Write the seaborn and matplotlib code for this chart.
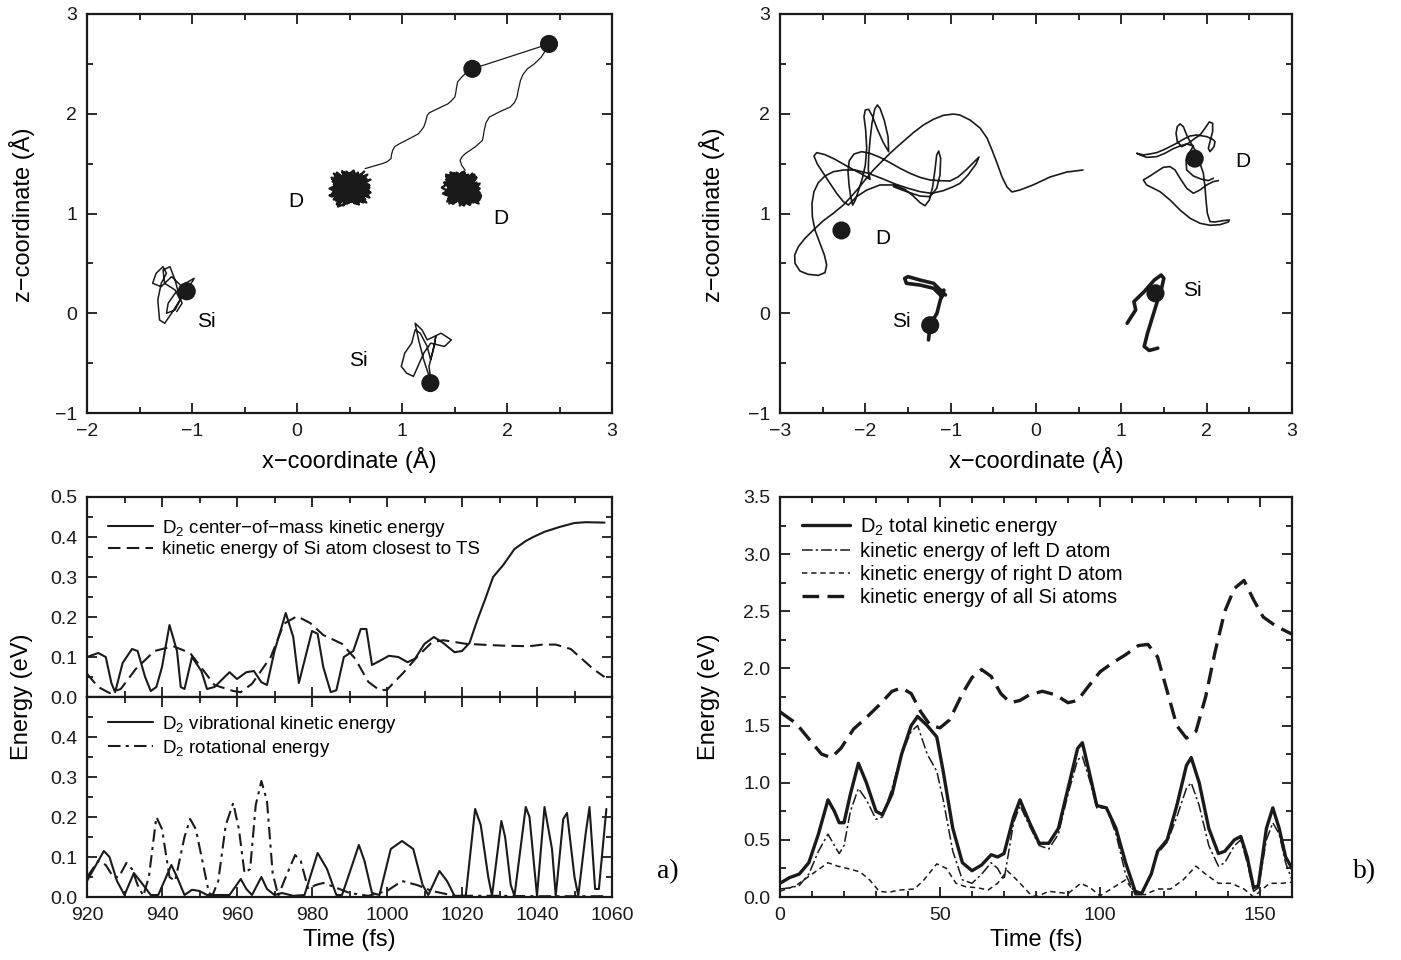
import matplotlib.pyplot as plt
from matplotlib.ticker import MultipleLocator
import seaborn as sns

sns.set_theme(style='ticks')
plt.rcParams['font.family'] = ['Liberation Sans', 'DejaVu Sans']
plt.rcParams['mathtext.fontset'] = 'custom'
plt.rcParams['mathtext.rm'] = 'Liberation Sans'
plt.rcParams['mathtext.default'] = 'rm'
for key in ['text.color', 'axes.labelcolor', 'xtick.color', 'ytick.color', 'axes.edgecolor']:
    plt.rcParams[key] = 'black'

# ---------------- panel a) top : trajectories (x, z in Angstrom)
a_dot_x = [2.40, 1.67, -1.05, 1.27]
a_dot_y = [2.70, 2.45, 0.22, -0.70]
a_bond_x = [1.67, 2.40]
a_bond_y = [2.45, 2.70]
a_pathl_x = [1.684, 1.62, 1.569, 1.53, 1.52, 1.512, 1.503, 1.47, 1.438, 1.34, 1.26, 1.24, 1.225,
             1.207, 1.18, 1.158, 1.07, 0.977, 0.93, 0.911, 0.90, 0.895, 0.86, 0.813, 0.73, 0.648]
a_pathl_y = [2.45, 2.42, 2.367, 2.32, 2.267, 2.21, 2.167, 2.13, 2.10, 2.05, 2.01, 1.983, 1.92,
             1.867, 1.83, 1.80, 1.75, 1.70, 1.67, 1.633, 1.59, 1.55, 1.52, 1.50, 1.475, 1.45]
a_pathr_x = [2.408, 2.37, 2.326, 2.26, 2.194, 2.15, 2.128, 2.11, 2.095, 2.07, 2.03, 1.93, 1.832,
             1.80, 1.783, 1.775, 1.766, 1.70, 1.602, 1.57, 1.553, 1.57, 1.602]
a_pathr_y = [2.70, 2.64, 2.567, 2.50, 2.45, 2.39, 2.333, 2.25, 2.167, 2.11, 2.067, 2.02, 1.967,
             1.91, 1.833, 1.78, 1.733, 1.67, 1.60, 1.565, 1.533, 1.48, 1.433]
blob_l_x = [0.64, 0.36, 0.62, 0.40, 0.58, 0.34, 0.66, 0.42, 0.55, 0.37,
            0.68, 0.45, 0.52, 0.35, 0.63, 0.39, 0.60, 0.47, 0.66, 0.33,
            0.57, 0.44, 0.69, 0.38, 0.61, 0.50, 0.36, 0.65, 0.41, 0.59,
            0.35, 0.67, 0.46, 0.54, 0.38, 0.62, 0.43, 0.70, 0.34, 0.56,
            0.49, 0.64, 0.37, 0.58, 0.45, 0.66, 0.40, 0.53, 0.36, 0.63,
            0.31, 0.60, 0.44, 0.68, 0.39, 0.51, 0.65, 0.35, 0.57, 0.42,
            0.69, 0.48, 0.33, 0.61, 0.46, 0.67, 0.38, 0.55, 0.43, 0.62,
            0.40, 0.64, 0.34, 0.59, 0.47, 0.69, 0.36, 0.54, 0.62, 0.41,
            0.67, 0.33, 0.50, 0.63, 0.38, 0.57, 0.45, 0.70, 0.35, 0.60,
            0.48, 0.66, 0.39, 0.53, 0.31, 0.64, 0.44, 0.58, 0.36, 0.68,
            0.42, 0.55, 0.34, 0.61, 0.47, 0.69, 0.37, 0.52, 0.65, 0.40]
blob_l_y = [1.42, 1.15, 1.38, 1.12, 1.40, 1.20, 1.18, 1.37, 1.10, 1.33,
            1.24, 1.41, 1.14, 1.29, 1.11, 1.39, 1.22, 1.13, 1.35, 1.26,
            1.16, 1.40, 1.28, 1.09, 1.33, 1.19, 1.37, 1.14, 1.31, 1.12,
            1.23, 1.39, 1.17, 1.36, 1.10, 1.27, 1.42, 1.21, 1.34, 1.13,
            1.38, 1.25, 1.16, 1.41, 1.11, 1.30, 1.20, 1.37, 1.15, 1.32,
            1.25, 1.12, 1.36, 1.19, 1.07, 1.34, 1.24, 1.40, 1.15, 1.30,
            1.26, 1.10, 1.36, 1.18, 1.39, 1.22, 1.31, 1.12, 1.42, 1.27,
            1.13, 1.35, 1.21, 1.09, 1.40, 1.16, 1.29, 1.43, 1.12, 1.38,
            1.24, 1.17, 1.33, 1.20, 1.41, 1.10, 1.27, 1.34, 1.14, 1.39,
            1.22, 1.11, 1.36, 1.26, 1.18, 1.31, 1.08, 1.37, 1.23, 1.29,
            1.15, 1.40, 1.32, 1.17, 1.42, 1.21, 1.13, 1.28, 1.35, 1.19]
blob_r_x = [1.60, 1.44, 1.70, 1.48, 1.74, 1.42, 1.65, 1.52, 1.72, 1.45,
            1.58, 1.68, 1.43, 1.62, 1.50, 1.75, 1.46, 1.66, 1.55, 1.41,
            1.71, 1.49, 1.63, 1.44, 1.73, 1.53, 1.67, 1.42, 1.59, 1.69,
            1.47, 1.64, 1.51, 1.74, 1.43, 1.61, 1.56, 1.70, 1.45, 1.66,
            1.50, 1.72, 1.48, 1.62, 1.41, 1.68, 1.54, 1.73, 1.46, 1.60,
            1.39, 1.65, 1.52, 1.71, 1.44, 1.57, 1.75, 1.47, 1.63, 1.42,
            1.69, 1.55, 1.45, 1.72, 1.50, 1.66, 1.43, 1.61, 1.53, 1.70,
            1.48, 1.71, 1.43, 1.64, 1.52, 1.75, 1.40, 1.58, 1.69, 1.46,
            1.73, 1.51, 1.62, 1.44, 1.67, 1.55, 1.74, 1.42, 1.60, 1.49,
            1.70, 1.45, 1.65, 1.53, 1.72, 1.41, 1.59, 1.68, 1.47, 1.63,
            1.38, 1.56, 1.74, 1.50, 1.66, 1.43, 1.71, 1.54, 1.46, 1.64]
blob_r_y = [1.40, 1.14, 1.37, 1.10, 1.25, 1.39, 1.12, 1.35, 1.18, 1.30,
            1.09, 1.38, 1.22, 1.13, 1.40, 1.16, 1.33, 1.11, 1.36, 1.20,
            1.31, 1.10, 1.39, 1.26, 1.13, 1.37, 1.17, 1.34, 1.08, 1.28,
            1.41, 1.15, 1.32, 1.21, 1.12, 1.38, 1.19, 1.35, 1.10, 1.27,
            1.40, 1.14, 1.36, 1.23, 1.31, 1.11, 1.39, 1.24, 1.16, 1.33,
            1.20, 1.09, 1.35, 1.26, 1.13, 1.41, 1.18, 1.30, 1.11, 1.37,
            1.22, 1.10, 1.38, 1.28, 1.15, 1.34, 1.19, 1.12, 1.40, 1.25,
            1.12, 1.36, 1.24, 1.09, 1.41, 1.18, 1.31, 1.14, 1.39, 1.22,
            1.10, 1.35, 1.27, 1.15, 1.40, 1.08, 1.30, 1.19, 1.37, 1.13,
            1.25, 1.38, 1.11, 1.33, 1.21, 1.29, 1.42, 1.16, 1.34, 1.10,
            1.26, 1.39, 1.14, 1.32, 1.20, 1.36, 1.12, 1.28, 1.41, 1.23]
a_si1_x = [-1.030, -1.095, -1.194, -1.26, -1.309, -1.326, -1.293, -1.243, -1.276, -1.342,
           -1.375, -1.293, -1.194, -1.128, -1.063, -0.997, -0.98, -1.063, -1.161, -1.227,
           -1.243, -1.161, -1.112, -1.161, -1.26, -1.276, -1.21, -1.161, -1.128, -1.095, -1.145]
a_si1_y = [0.233, 0.167, 0.0, -0.1, -0.067, 0.133, 0.30, 0.40, 0.467, 0.40,
           0.30, 0.267, 0.367, 0.30, 0.233, 0.317, 0.35, 0.30, 0.20, 0.10,
           0.0, 0.033, 0.133, 0.233, 0.30, 0.433, 0.467, 0.333, 0.20, 0.10, 0.017]
a_si2_x = [1.28, 1.207, 1.158, 1.125, 1.191, 1.24, 1.372, 1.47, 1.405, 1.273, 1.207, 1.109,
           1.043, 0.993, 1.026, 1.092, 1.125, 1.174, 1.24, 1.273, 1.306, 1.322, 1.289, 1.257, 1.28]
a_si2_y = [-0.70, -0.467, -0.267, -0.10, -0.167, -0.267, -0.20, -0.267, -0.333, -0.30, -0.40, -0.633,
           -0.60, -0.533, -0.40, -0.30, -0.167, -0.20, -0.333, -0.467, -0.333, -0.233, -0.40, -0.533, -0.70]
a_lab_text = ['D', 'D', 'Si', 'Si']
a_lab_x = [-0.01, 1.94, -0.86, 0.58]
a_lab_y = [1.12, 0.95, -0.08, -0.47]

# ---------------- panel b) top : trajectories
b_dot_x = [-2.28, 1.86, -1.24, 1.40]
b_dot_y = [0.83, 1.55, -0.12, 0.20]
b_dl_x = [0.551, 0.363, 0.164, -0.035, -0.187, -0.281, -0.340, -0.398, -0.457, -0.516,
          -0.574, -0.656, -0.773, -0.891, -0.969, -1.086, -1.203, -1.320, -1.438, -1.535,
          -1.625, -1.711, -1.809, -1.906, -2.004, -2.082, -2.160, -2.258, -2.375, -2.492,
          -2.609, -2.707, -2.785, -2.828, -2.824, -2.766, -2.668, -2.551, -2.473, -2.453,
          -2.480, -2.531, -2.590, -2.621, -2.625, -2.602, -2.551, -2.473, -2.375, -2.258,
          -2.121, -1.965, -1.809, -1.652, -1.496, -1.359, -1.223, -1.086, -0.969, -0.891,
          -0.797, -0.703, -0.668, -0.727, -0.820, -0.914, -1.008, -1.125, -1.242, -1.359,
          -1.477, -1.594, -1.711, -1.828, -1.945, -2.043, -2.133, -2.188, -2.203, -2.191,
          -2.172, -2.148, -2.117, -2.078, -2.035, -2.0, -1.984, -1.996, -2.016, -2.0,
          -1.961, -1.918, -1.859, -1.789, -1.727, -1.734, -1.777, -1.828, -1.859, -1.891,
          -1.922, -1.945, -1.961, -1.965, -1.945, -1.977, -2.043, -2.133, -2.238, -2.355,
          -2.473, -2.570, -2.602, -2.563, -2.492, -2.414, -2.336, -2.258, -2.199, -2.102,
          -1.984, -1.828, -1.672, -1.535, -1.438, -1.359, -1.301, -1.250, -1.211, -1.184,
          -1.164, -1.141, -1.117, -1.125, -1.164, -1.242, -1.359, -1.516, -1.672]
b_dl_y = [1.436, 1.416, 1.366, 1.286, 1.236, 1.216, 1.266, 1.366, 1.506, 1.637,
          1.757, 1.857, 1.937, 1.987, 1.997, 1.984, 1.944, 1.887, 1.810, 1.737,
          1.670, 1.603, 1.520, 1.436, 1.336, 1.252, 1.175, 1.085, 1.002, 0.928,
          0.834, 0.751, 0.667, 0.584, 0.500, 0.423, 0.390, 0.380, 0.407, 0.484,
          0.584, 0.701, 0.834, 0.968, 1.102, 1.219, 1.309, 1.376, 1.419, 1.436,
          1.436, 1.403, 1.352, 1.296, 1.252, 1.219, 1.202, 1.229, 1.269, 1.302,
          1.386, 1.496, 1.566, 1.516, 1.436, 1.366, 1.326, 1.329, 1.336, 1.362,
          1.403, 1.453, 1.510, 1.563, 1.603, 1.620, 1.596, 1.530, 1.419, 1.286,
          1.169, 1.085, 1.135, 1.235, 1.352, 1.486, 1.653, 1.837, 1.971, 2.038,
          2.044, 1.977, 1.844, 1.710, 1.620, 1.770, 1.931, 2.054, 2.088, 2.044,
          1.904, 1.737, 1.570, 1.436, 1.342, 1.362, 1.396, 1.436, 1.486, 1.543,
          1.590, 1.610, 1.576, 1.496, 1.403, 1.302, 1.202, 1.119, 1.085, 1.169,
          1.235, 1.286, 1.286, 1.242, 1.175, 1.109, 1.078, 1.135, 1.269, 1.436,
          1.586, 1.626, 1.553, 1.386, 1.252, 1.169, 1.175, 1.219, 1.269]
b_dr_x = [2.137, 2.078, 2.000, 1.922, 1.844, 1.766, 1.688, 1.629, 1.570, 1.492,
          1.414, 1.336, 1.258, 1.297, 1.375, 1.453, 1.570, 1.688, 1.805, 1.922,
          2.039, 2.156, 2.254, 2.266, 2.195, 2.098, 2.039, 2.008, 1.992, 1.980,
          1.961, 1.922, 1.883, 1.863, 1.805, 1.766, 1.727, 1.688, 1.656, 1.641,
          1.656, 1.707, 1.785, 1.863, 1.922, 1.980, 2.031, 2.070, 2.070, 2.039,
          2.020, 2.039, 2.086, 2.098, 2.070, 2.000, 1.883, 1.805, 1.727, 1.648,
          1.570, 1.492, 1.414, 1.336, 1.258, 1.180, 1.219, 1.297, 1.414, 1.512,
          1.609, 1.688, 1.766, 1.844, 1.805, 1.758, 1.766, 1.844, 1.941, 2.020, 2.078]
b_dr_y = [1.330, 1.320, 1.286, 1.236, 1.203, 1.253, 1.353, 1.437, 1.470, 1.463,
          1.420, 1.376, 1.336, 1.286, 1.253, 1.219, 1.136, 1.035, 0.952, 0.902,
          0.882, 0.888, 0.915, 0.935, 0.929, 0.915, 0.919, 1.002, 1.136, 1.269,
          1.403, 1.503, 1.570, 1.637, 1.721, 1.787, 1.871, 1.898, 1.871, 1.804,
          1.721, 1.670, 1.704, 1.754, 1.787, 1.854, 1.918, 1.904, 1.821, 1.721,
          1.654, 1.620, 1.670, 1.721, 1.744, 1.771, 1.787, 1.777, 1.744, 1.704,
          1.670, 1.637, 1.610, 1.597, 1.587, 1.604, 1.587, 1.563, 1.570, 1.604,
          1.650, 1.677, 1.697, 1.677, 1.620, 1.537, 1.436, 1.376, 1.343, 1.330, 1.353]
b_si1_x = [-1.26, -1.24, -1.161, -1.121, -1.081, -1.101, -1.141, -1.20, -1.36, -1.519,
           -1.539, -1.499, -1.36, -1.20, -1.121, -1.061]
b_si1_y = [-0.267, -0.117, 0.0, 0.133, 0.233, 0.167, 0.20, 0.25, 0.283, 0.30,
           0.35, 0.367, 0.333, 0.30, 0.233, 0.183]
b_si2_x = [1.068, 1.168, 1.148, 1.268, 1.387, 1.467, 1.498, 1.467, 1.427, 1.367, 1.307, 1.268, 1.327, 1.427]
b_si2_y = [-0.10, 0.033, 0.117, 0.217, 0.333, 0.383, 0.35, 0.233, 0.133, -0.033, -0.20, -0.333, -0.373, -0.35]
b_lab_text = ['D', 'D', 'Si', 'Si']
b_lab_x = [-1.80, 2.42, -1.58, 1.83]
b_lab_y = [0.75, 1.52, -0.08, 0.23]

# ---------------- panel a) bottom : energies (eV) vs time (fs)
cm_t = [920, 923, 925, 926.5, 927.5, 929.5, 932, 933.5, 935.5, 937, 938.5, 940, 942, 944, 945,
        946, 948, 950.5, 952, 954, 958, 960, 962.5, 964.5, 966.5, 968, 970, 973, 975, 976.5,
        980, 981.5, 983, 985, 986.5, 988.5, 991, 993, 994.5, 996, 998, 1000.5, 1003, 1005.5,
        1007.5, 1010, 1012.5, 1015, 1018, 1020, 1022, 1024, 1026, 1028.3, 1031, 1034, 1037,
        1039, 1042, 1046, 1050, 1053, 1058]
cm_e = [0.10, 0.11, 0.10, 0.035, 0.012, 0.085, 0.12, 0.115, 0.05, 0.015, 0.025, 0.075, 0.18, 0.115, 0.025,
        0.02, 0.10, 0.065, 0.02, 0.025, 0.062, 0.045, 0.062, 0.065, 0.037, 0.03, 0.115, 0.21, 0.15, 0.035,
        0.165, 0.158, 0.075, 0.012, 0.017, 0.10, 0.115, 0.17, 0.17, 0.08, 0.09, 0.103, 0.10, 0.087,
        0.096, 0.133, 0.15, 0.135, 0.112, 0.115, 0.135, 0.19, 0.24, 0.30, 0.33, 0.37, 0.39,
        0.40, 0.413, 0.425, 0.435, 0.437, 0.436]
sits_t = [920, 923, 926, 929, 933, 938, 943, 947.5, 951, 954, 959, 961, 964, 969, 972.5, 976, 979.5,
          983, 988, 991.5, 995, 998, 1000, 1004.5, 1008, 1012, 1015, 1021, 1027, 1032, 1038, 1041.5,
          1045, 1049, 1052, 1055, 1058]
sits_e = [0.058, 0.025, 0.01, 0.02, 0.07, 0.115, 0.127, 0.11, 0.067, 0.03, 0.015, 0.012, 0.033, 0.10,
          0.183, 0.202, 0.185, 0.155, 0.133, 0.096, 0.038, 0.017, 0.018, 0.062, 0.10, 0.137, 0.142,
          0.133, 0.13, 0.128, 0.127, 0.131, 0.131, 0.12, 0.095, 0.07, 0.05]
vib_t = [920, 924.5, 926, 928, 930, 932.5, 935, 937, 939, 942.5, 944, 946, 948, 950, 952, 958, 961,
         962.5, 964, 966.5, 968, 970, 972, 975, 978, 981.5, 984, 986.5, 988, 990, 992.5, 994, 996,
         998, 1001, 1004, 1007, 1009.5, 1011, 1014, 1016, 1018, 1021, 1023.5, 1025, 1027, 1028,
         1030.5, 1031.5, 1033, 1034, 1037, 1038, 1040, 1042, 1044, 1045, 1047, 1048, 1050, 1051,
         1053, 1054, 1055.5, 1056.5, 1058.5]
vib_e = [0.04, 0.115, 0.10, 0.04, 0.005, 0.06, 0.03, 0.005, 0.005, 0.08, 0.05, 0.005, 0.018, 0.015,
         0.005, 0.005, 0.045, 0.02, 0.005, 0.05, 0.02, 0.005, 0.01, 0.003, 0.005, 0.11, 0.07, 0.005,
         0.005, 0.06, 0.13, 0.09, 0.01, 0.005, 0.12, 0.14, 0.12, 0.03, 0.005, 0.065, 0.04, 0.003,
         0.003, 0.22, 0.18, 0.05, 0.003, 0.19, 0.15, 0.03, 0.003, 0.225, 0.2, 0.003, 0.225, 0.12,
         0.003, 0.195, 0.21, 0.05, 0.003, 0.16, 0.225, 0.02, 0.02, 0.22]
rot_t = [920, 923, 925, 927, 928.5, 930.5, 932, 933.5, 935, 936.5, 938.5, 940, 942, 943.5, 946,
         947.5, 949, 951, 952.5, 953.5, 955, 957, 959, 960.5, 962, 963.5, 965, 966.5, 968, 969.5,
         971, 973, 975.5, 977, 979, 981, 983, 986, 990, 995, 1000, 1004, 1008, 1012, 1018, 1030,
         1040, 1050, 1058]
rot_e = [0.05, 0.09, 0.08, 0.05, 0.05, 0.085, 0.07, 0.03, 0.003, 0.05, 0.2, 0.17, 0.05, 0.04, 0.15,
         0.195, 0.17, 0.08, 0.01, 0.005, 0.04, 0.18, 0.235, 0.17, 0.06, 0.07, 0.23, 0.29, 0.24, 0.06,
         0.003, 0.05, 0.105, 0.09, 0.02, 0.03, 0.035, 0.025, 0.01, 0.003, 0.015, 0.04, 0.03, 0.015,
         0.003, 0.003, 0.002, 0.002, 0.002]

# ---------------- panel b) bottom
ek_t = [0, 3, 6, 9, 12, 15, 17, 18.5, 20, 22, 24.5, 27, 30, 32, 35, 38, 41, 43, 46, 49, 51, 54, 57,
        60, 63, 66, 68, 70, 73, 75, 78, 81, 84, 87, 90, 93, 94.5, 97, 99, 102, 105, 108, 111, 113,
        116, 118, 121, 124, 127, 128.5, 131, 134, 137, 139, 142, 144, 146, 148, 149.5, 152, 154,
        156, 158, 160]
ek_tot = [0.12, 0.17, 0.2, 0.3, 0.55, 0.85, 0.75, 0.65, 0.65, 0.9, 1.17, 1.0, 0.75, 0.72, 0.9, 1.25,
          1.5, 1.58, 1.5, 1.4, 1.1, 0.6, 0.3, 0.23, 0.28, 0.37, 0.35, 0.38, 0.7, 0.85, 0.65, 0.47,
          0.47, 0.6, 0.95, 1.3, 1.35, 1.05, 0.8, 0.78, 0.6, 0.3, 0.05, 0.03, 0.2, 0.4, 0.5, 0.8,
          1.15, 1.22, 1.0, 0.6, 0.38, 0.4, 0.5, 0.53, 0.35, 0.08, 0.1, 0.6, 0.78, 0.6, 0.35, 0.25]
ek_left = [0.07, 0.08, 0.1, 0.2, 0.4, 0.55, 0.45, 0.38, 0.45, 0.75, 0.95, 0.85, 0.68, 0.7, 0.95,
           1.25, 1.45, 1.5, 1.25, 1.1, 0.85, 0.4, 0.15, 0.12, 0.2, 0.3, 0.25, 0.15, 0.65, 0.8, 0.62,
           0.45, 0.42, 0.55, 0.9, 1.2, 1.23, 1.0, 0.78, 0.78, 0.55, 0.2, 0.02, 0.02, 0.2, 0.38, 0.48,
           0.7, 0.95, 1.0, 0.8, 0.45, 0.27, 0.3, 0.45, 0.5, 0.3, 0.05, 0.08, 0.5, 0.65, 0.55, 0.3, 0.15]
ekr_t = [0, 5, 10, 15, 18, 21, 25, 28, 31, 34, 37, 42, 45, 49, 52, 55, 58, 62, 65, 68, 71, 74, 78, 80,
         84, 90, 94, 97, 100, 104, 108, 111, 114, 118, 122, 126, 130, 133, 137, 141, 145, 148, 150,
         153, 157, 160]
ek_right = [0.05, 0.1, 0.2, 0.3, 0.27, 0.25, 0.22, 0.15, 0.05, 0.04, 0.06, 0.07, 0.15, 0.29, 0.25,
            0.12, 0.09, 0.08, 0.06, 0.12, 0.23, 0.15, 0.03, 0.0, 0.05, 0.03, 0.12, 0.08, 0.01, 0.08,
            0.15, 0.03, 0.02, 0.07, 0.07, 0.15, 0.27, 0.2, 0.12, 0.12, 0.07, 0.0, 0.05, 0.12, 0.12, 0.13]
eks_t = [0, 5, 10, 13, 16, 19, 23, 27, 31, 35, 38, 41, 44, 47, 50, 53, 57, 60, 63, 66, 69, 72, 75,
         78, 82, 86, 90, 93, 96, 100, 104, 108, 112, 115, 118, 121, 124, 127, 130, 133, 136, 139,
         142, 145, 148, 151, 155, 160]
ek_si = [1.62, 1.52, 1.35, 1.25, 1.22, 1.3, 1.47, 1.57, 1.68, 1.8, 1.83, 1.78, 1.62, 1.5, 1.48, 1.55,
         1.78, 1.92, 1.99, 1.93, 1.78, 1.7, 1.72, 1.77, 1.8, 1.77, 1.7, 1.72, 1.83, 1.97, 2.05, 2.12,
         2.2, 2.21, 2.1, 1.8, 1.5, 1.39, 1.45, 1.75, 2.15, 2.5, 2.7, 2.77, 2.6, 2.45, 2.37, 2.3]

leg_a1 = ['D$_2$ center\u2212of\u2212mass kinetic energy', 'kinetic energy of Si atom closest to TS']
leg_a2 = ['D$_2$ vibrational kinetic energy', 'D$_2$ rotational energy']
leg_b = ['D$_2$ total kinetic energy', 'kinetic energy of left D atom',
         'kinetic energy of right D atom', 'kinetic energy of all Si atoms']

W, H = 1401, 960
fig = plt.figure(figsize=(W / 100, H / 100), dpi=100)


def box(x0, y0, x1, y1):
    return [x0 / W, 1 - y1 / H, (x1 - x0) / W, (y1 - y0) / H]


def style(ax, xmaj, xmin, ymaj, ymin):
    ax.xaxis.set_major_locator(MultipleLocator(xmaj))
    ax.xaxis.set_minor_locator(MultipleLocator(xmin))
    ax.yaxis.set_major_locator(MultipleLocator(ymaj))
    ax.yaxis.set_minor_locator(MultipleLocator(ymin))
    ax.tick_params(which='both', direction='in', top=True, right=True, width=1.3,
                   labelsize=14, pad=7, colors='k')
    ax.tick_params(which='major', length=7)
    ax.tick_params(which='minor', length=4)
    for s in ax.spines.values():
        s.set_linewidth(1.6)
        s.set_color('k')
    ax.set_xlabel('')
    ax.set_ylabel('')


def line(ax, x, y, lw=1.0, ls='-', label=None):
    sns.lineplot(x=x, y=y, sort=False, estimator=None, color='k', lw=lw,
                 linestyle=ls, label=label, legend=False, ax=ax)


ax1 = fig.add_axes(box(87, 14, 612, 413))
line(ax1, a_bond_x, a_bond_y, 0.9)
line(ax1, a_pathl_x, a_pathl_y, 0.9)
line(ax1, a_pathr_x, a_pathr_y, 0.9)
line(ax1, blob_l_x, blob_l_y, 1.7)
line(ax1, blob_r_x, blob_r_y, 1.7)
line(ax1, a_si1_x, a_si1_y, 1.1)
line(ax1, a_si2_x, a_si2_y, 1.1)
sns.scatterplot(x=a_dot_x, y=a_dot_y, color='k', s=170, edgecolor='none', ax=ax1, zorder=5)
for t, x, y in zip(a_lab_text, a_lab_x, a_lab_y):
    ax1.text(x, y, t, fontsize=15, ha='center', va='center')
ax1.set_xlim(-2, 3)
ax1.set_ylim(-1, 3)
style(ax1, 1, 0.5, 1, 0.5)

ax2 = fig.add_axes(box(780, 14, 1292, 413))
line(ax2, b_dl_x, b_dl_y, 1.2)
line(ax2, b_dr_x, b_dr_y, 1.2)
line(ax2, b_si1_x, b_si1_y, 2.6)
line(ax2, b_si2_x, b_si2_y, 2.6)
sns.scatterplot(x=b_dot_x, y=b_dot_y, color='k', s=170, edgecolor='none', ax=ax2, zorder=5)
for t, x, y in zip(b_lab_text, b_lab_x, b_lab_y):
    ax2.text(x, y, t, fontsize=15, ha='center', va='center')
ax2.set_xlim(-3, 3)
ax2.set_ylim(-1, 3)
style(ax2, 1, 0.5, 1, 0.5)

leg_kw = dict(loc='upper left', frameon=False, handlelength=2.4, handletextpad=0.5,
              borderaxespad=0, borderpad=0)

ax3 = fig.add_axes(box(87, 497, 612, 697))
line(ax3, cm_t, cm_e, 1.5, '-', leg_a1[0])
line(ax3, sits_t, sits_e, 1.5, (0, (6, 3)), leg_a1[1])
ax3.set_xlim(920, 1060)
ax3.set_ylim(0, 0.5)
style(ax3, 20, 10, 0.1, 0.05)
ax3.tick_params(labelbottom=False)
ax3.legend(bbox_to_anchor=(0.04, 0.895), fontsize=13.5, labelspacing=0.12, **leg_kw)

ax4 = fig.add_axes(box(87, 697, 612, 897))
line(ax4, vib_t, vib_e, 1.5, '-', leg_a2[0])
line(ax4, rot_t, rot_e, 1.5, (0, (6, 2.5, 1.5, 2.5)), leg_a2[1])
ax4.set_xlim(920, 1060)
ax4.set_ylim(0, 0.5)
style(ax4, 20, 10, 0.1, 0.05)
ax4.set_yticks([0, 0.1, 0.2, 0.3, 0.4])
ax4.legend(bbox_to_anchor=(0.04, 0.915), fontsize=13.5, labelspacing=0.15, **leg_kw)

ax5 = fig.add_axes(box(780, 497, 1292, 897))
line(ax5, ek_t, ek_tot, 2.4, '-', leg_b[0])
line(ax5, ek_t, ek_left, 1.1, (0, (7, 2, 1.5, 2)), leg_b[1])
line(ax5, ekr_t, ek_right, 1.1, (0, (3.5, 2.5)), leg_b[2])
line(ax5, eks_t, ek_si, 2.4, (0, (5, 2.5)), leg_b[3])
ax5.set_xlim(0, 160)
ax5.set_ylim(0, 3.5)
style(ax5, 50, 10, 0.5, 0.25)
ax5.legend(bbox_to_anchor=(0.043, 0.955), fontsize=14.5, labelspacing=0.2, **leg_kw)

fig.text(22 / W, 1 - 215 / H, 'z\u2212coordinate (\u00c5)', rotation=90, fontsize=17, ha='center', va='center')
fig.text(349 / W, 1 - 460 / H, 'x\u2212coordinate (\u00c5)', fontsize=17, ha='center', va='center')
fig.text(712 / W, 1 - 215 / H, 'z\u2212coordinate (\u00c5)', rotation=90, fontsize=17, ha='center', va='center')
fig.text(1036 / W, 1 - 460 / H, 'x\u2212coordinate (\u00c5)', fontsize=17, ha='center', va='center')
fig.text(22 / W, 1 - 697 / H, 'Energy (eV)', rotation=90, fontsize=17, ha='center', va='center')
fig.text(349 / W, 1 - 940 / H, 'Time (fs)', fontsize=17, ha='center', va='center')
fig.text(709 / W, 1 - 697 / H, 'Energy (eV)', rotation=90, fontsize=17, ha='center', va='center')
fig.text(1036 / W, 1 - 940 / H, 'Time (fs)', fontsize=17, ha='center', va='center')
fig.text(668 / W, 1 - 872 / H, 'a)', fontsize=20, ha='center', va='center', family='Liberation Serif')
fig.text(1365 / W, 1 - 872 / H, 'b)', fontsize=20, ha='center', va='center', family='Liberation Serif')

fig.savefig('out.png', dpi=100, facecolor='white')
